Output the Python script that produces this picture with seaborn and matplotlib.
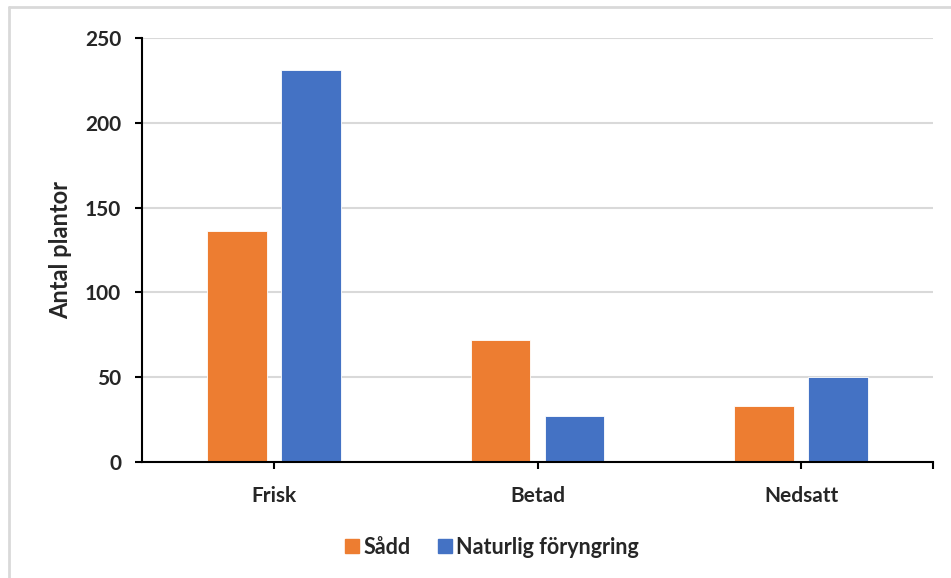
import matplotlib
matplotlib.use("Agg")
import matplotlib.pyplot as plt
import seaborn as sns
import pandas as pd
from matplotlib.lines import Line2D

# data
categories = ["Frisk", "Betad", "Nedsatt"]
series_names = ["Sådd", "Naturlig föryngring"]
sadd = [136, 72, 33]
naturlig = [231, 27, 50]
colors = ["#ED7D31", "#4472C4"]

df = pd.DataFrame({
    "Kategori": categories * 2,
    "Serie": [series_names[0]] * 3 + [series_names[1]] * 3,
    "Antal": sadd + naturlig,
})

sns.set_style("white")
plt.rcParams["font.family"] = ["Lato", "DejaVu Sans"]
plt.rcParams["font.weight"] = "bold"

fig = plt.figure(figsize=(9.51, 5.78), dpi=100)
ax = fig.add_axes([142 / 951, 1 - 462 / 578, 791 / 951, 424 / 578])

sns.barplot(data=df, x="Kategori", y="Antal", hue="Serie", order=categories,
            hue_order=series_names, palette=colors, width=0.56, gap=0.19,
            edgecolor="white", linewidth=0.6, saturation=1, ax=ax, legend=False)

ax.set_xlim(-0.5, 2.5)
ax.set_ylim(0, 250)
ax.set_yticks([0, 50, 100, 150, 200, 250])
ax.yaxis.grid(True, color="#d9d9d9", linewidth=1.5)
ax.set_axisbelow(True)
for s in ["top", "right"]:
    ax.spines[s].set_visible(False)
for s in ["left", "bottom"]:
    ax.spines[s].set_color("black")
    ax.spines[s].set_linewidth(1.5)

ax.set_xticks([0, 1, 2])
ax.set_xticks([2.5], minor=True)
ax.tick_params(axis="x", which="both", direction="out", length=5, width=1.5,
               color="black", bottom=True, pad=12, labelsize=15)
ax.tick_params(axis="y", direction="out", length=5, width=1.5, color="black",
               left=True, pad=10, labelsize=15)
for lab in ax.get_xticklabels() + ax.get_yticklabels():
    lab.set_fontweight("bold")

ax.set_xlabel("")
ax.set_ylabel("Antal plantor", fontsize=17, fontweight="bold")
ax.yaxis.set_label_coords(-0.088, 0.5)

handles = [Line2D([0], [0], marker="s", linestyle="", markersize=9.5,
                  markerfacecolor=c, markeredgecolor=c) for c in colors]
fig.legend(handles, series_names, loc="center", ncol=2, frameon=False,
           bbox_to_anchor=(492 / 951, 1 - 547 / 578),
           handlelength=0.65, handletextpad=0.2, columnspacing=1.3,
           prop={"weight": "bold", "size": 15.5})

# light gray chart-area border
fig.add_artist(Line2D([9 / 951, 9 / 951], [0, 1 - 7 / 578], color="#d9d9d9",
                      linewidth=2, transform=fig.transFigure))
fig.add_artist(Line2D([9 / 951, 1], [1 - 7 / 578, 1 - 7 / 578], color="#d9d9d9",
                      linewidth=2, transform=fig.transFigure))

fig.savefig("out.png", dpi=100, facecolor="white")
